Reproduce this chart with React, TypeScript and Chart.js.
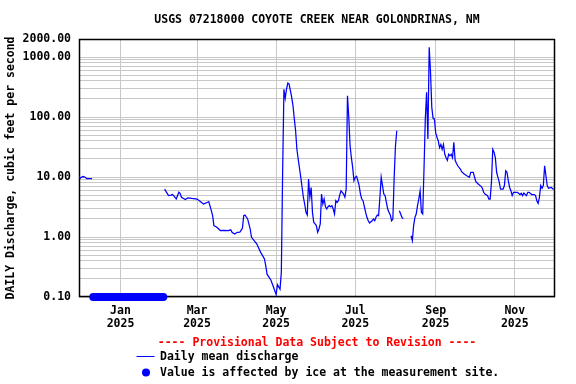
import React, { useEffect, useRef } from "react";
import { Chart, registerables } from "chart.js";

Chart.register(...registerables);

const TITLE = "USGS 07218000 COYOTE CREEK NEAR GOLONDRINAS, NM";
const Y_TITLE = "DAILY Discharge, cubic feet per second";
const PROVISIONAL = "---- Provisional Data Subject to Revision ----";
const LEGEND_LINE = "Daily mean discharge";
const LEGEND_ICE = "Value is affected by ice at the measurement site.";

// x values are days since 2025-01-01
const X_MIN = -32;
const X_MAX = 335;
const xTickDays = [0, 59, 120, 181, 243, 304];
const xTickLabels = [
  ["Jan", "2025"],
  ["Mar", "2025"],
  ["May", "2025"],
  ["Jul", "2025"],
  ["Sep", "2025"],
  ["Nov", "2025"],
];
const Y_MIN = 0.1;
const Y_MAX = 2000;
const yLabelValues = [0.1, 1, 10, 100, 1000, 2000];

// daily mean discharge (cfs); null = no value (gap)
const flowDay = [
  -32, -31, -30, -29, -28, -27, -26, -25, -24, -23, -22, -21,
  34, 37, 39, 40, 41, 43, 45, 46, 47, 50, 52, 55, 59, 61, 64, 66, 68, 69,
  71, 72, 74, 77, 79, 83, 85, 86, 88, 90, 92, 94, 95, 96, 98, 100, 101,
  105, 108, 111, 112, 113, 116, 118, 120, 121, 123, 124, 125, 126, 127,
  128, 129, 130, 132, 133, 134, 135, 136, 137, 139, 140, 141, 142, 143,
  144, 145, 146, 147, 148, 149, 150, 151, 152, 153, 154, 155, 156, 157,
  158, 159, 160, 161, 162, 163, 164, 165, 166, 167, 168, 169, 170, 171,
  172, 173, 174, 175, 176, 177, 178, 179, 180, 181, 182, 183, 184, 185,
  186, 187, 188, 189, 190, 191, 192, 194, 195, 196, 197, 198, 199, 200,
  201, 202, 203, 204, 205, 206, 207, 208, 209, 210, 211, 212, 213, 214,
  215, 216, 217, 218, 219,
  224, 225, 226, 227, 228, 229, 230, 231, 232, 233, 234, 235, 236, 237,
  238, 239, 240, 241, 242, 243, 244, 245, 246, 247, 248, 249, 250, 251,
  252, 253, 254, 255, 256, 257, 258, 259, 260, 262, 263, 265, 267, 269,
  270, 272, 273, 274, 276, 278, 279, 280, 281, 283, 284, 285, 286, 287,
  288, 289, 290, 291, 292, 293, 295, 296, 297, 298, 299, 300, 301, 302,
  303, 305, 306, 308, 309, 310, 311, 313, 314, 315, 317, 319, 320, 321,
  322, 323, 324, 325, 326, 327, 328, 329, 330, 332, 334,
];
const flowCfs: (number | null)[] = [
  10.3, 9.6, 9.9, 10.2, 10.1, 9.8, 9.4, 9.4, 9.4, 9.4, 9.4, null,
  6.3, 4.9, 5.0, 5.1, 4.9, 4.3, 5.6, 5.3, 4.6, 4.2, 4.5, 4.4, 4.3, 4.0, 3.55, 3.7, 3.9, 3.3,
  2.3, 1.55, 1.47, 1.28, 1.29, 1.28, 1.32, 1.2, 1.12, 1.2, 1.21, 1.4, 2.27, 2.33, 2.0, 1.36, 0.99,
  0.77, 0.56, 0.43, 0.33, 0.24, 0.19, 0.145, 0.11, 0.16, 0.135, 0.26, 12, 290, 205,
  293, 369, 355, 213, 154, 93, 59, 29, 20, 9.9, 6.7, 4.6, 3.55, 2.58,
  2.33, 9.3, 4.6, 6.7, 2.58, 1.76, 1.65, 1.55, 1.2, 1.36, 1.65, 5.2, 3.55, 4.3,
  3.2, 2.93, 3.2, 3.33, 3.2, 3.33, 2.93, 2.42, 4.03, 3.78, 4.03, 5.0, 5.9, 5.56,
  5.2, 4.6, 6.3, 227, 99, 33, 21, 14.5, 8.7, 9.9, 10.3, 8.7, 7.2, 5.2,
  4.3, 4.03, 3.2, 2.58, 2.13, 1.87, 1.71, 1.87, 2.0, 1.87, 2.13, 2.33, 2.27, 4.6,
  9.9, 7.2, 5.2, 4.9, 3.78, 2.93, 2.58, 2.33, 1.87, 2.0, 9.9, 33, 59, null,
  2.75, 2.42, 2.13, 2.0, null,
  1.05, 0.87, 1.55, 2.13, 2.42, 3.33, 4.3, 5.9, 2.58, 2.42, 13.6, 93, 258, 43,
  1450, 570, 145, 95, 93, 55, 46, 40, 31, 35, 29, 35, 24, 21,
  19, 24, 22.6, 24, 21, 38, 19, 17, 15.4, 13.6, 12.3, 11.2, 10.5, 9.9,
  12, 12, 9.9, 8.4, 7.6, 7.0, 6.5, 5.56, 5.2, 4.9, 4.3, 4.3, 8.2, 29,
  26, 21, 12, 9.9, 8.2, 6.3, 6.3, 7.2, 12.7, 12, 8.7, 6.7, 5.9, 4.9,
  5.56, 5.56, 5.56, 5.1, 5.35, 4.9, 5.4, 4.9, 5.56, 5.56, 5.1, 5.1, 4.9, 4.03,
  3.64, 4.6, 7.2, 6.5, 7.2, 15.4, 10.5, 7.2, 6.5, 6.7, 6.2,
];

// days flagged as ice-affected (marked along the bottom of the plot)
const iceDay = [
  -21, -20, -19, -18, -17, -16, -15, -14, -13, -12, -11, -10, -9, -8, -7,
  -6, -5, -4, -3, -2, -1, 0, 1, 2, 3, 4, 5, 6, 7, 8, 9, 10, 11, 12, 13,
  14, 15, 16, 17, 18, 19, 20, 21, 22, 23, 24, 25, 26, 27, 28, 29, 30, 31,
  32, 33,
];
const ICE_MARK = 0.1;

const FONT_FAMILY = "'DejaVu Sans Mono', 'Liberation Mono', monospace";
const BLUE = "#0000ff";

const overlayPlugin = {
  id: "usgsOverlay",
  beforeDatasetsDraw(chart: any) {
    const { ctx, chartArea: a } = chart;
    ctx.save();
    ctx.strokeStyle = "#000";
    ctx.lineWidth = 1.5;
    const l = Math.round(a.left) + 0.5;
    const t = Math.round(a.top) + 0.5;
    const r = Math.round(a.right) - 0.5;
    const b = Math.round(a.bottom) - 0.5;
    ctx.strokeRect(l, t, r - l, b - t);
    ctx.restore();
  },
  afterDraw(chart: any) {
    const { ctx, chartArea: a } = chart;
    ctx.save();
    ctx.font = `bold 11.5px ${FONT_FAMILY}`;
    ctx.textBaseline = "middle";
    ctx.fillStyle = "#000";
    ctx.textAlign = "center";
    ctx.fillText(TITLE, (a.left + a.right) / 2, 20.5);

    ctx.fillStyle = "#ff0000";
    ctx.fillText(PROVISIONAL, (a.left + a.right) / 2, 343);

    ctx.textAlign = "left";
    ctx.fillStyle = "#000";
    ctx.fillText(LEGEND_LINE, 160, 357);
    ctx.fillText(LEGEND_ICE, 160, 373);

    ctx.strokeStyle = BLUE;
    ctx.lineWidth = 1;
    ctx.beginPath();
    ctx.moveTo(136.5, 356.5);
    ctx.lineTo(154.5, 356.5);
    ctx.stroke();

    ctx.fillStyle = BLUE;
    ctx.beginPath();
    ctx.arc(146, 372.5, 4, 0, Math.PI * 2);
    ctx.fill();
    ctx.restore();
  },
};

function buildLogGridValues(): number[] {
  const vals: number[] = [];
  for (let dec = Y_MIN; dec < Y_MAX; dec *= 10) {
    for (let m = 1; m <= 9; m++) {
      const v = parseFloat((dec * m).toPrecision(6));
      if (v <= Y_MAX) vals.push(v);
    }
  }
  if (vals[vals.length - 1] !== Y_MAX) vals.push(Y_MAX);
  return vals;
}

export default function App() {
  const canvasRef = useRef<HTMLCanvasElement | null>(null);

  useEffect(() => {
    document.body.style.margin = "0";
    const canvas = canvasRef.current;
    if (!canvas) return;

    const linePoints = flowDay.map((d, i) => ({ x: d, y: flowCfs[i] }));
    const icePoints = iceDay.map((d) => ({ x: d, y: ICE_MARK }));
    const gridVals = buildLogGridValues();

    const chart = new Chart(canvas, {
      type: "line",
      data: {
        datasets: [
          {
            label: LEGEND_LINE,
            data: linePoints as any,
            borderColor: BLUE,
            borderWidth: 1.25,
            pointRadius: 0,
            tension: 0,
            spanGaps: false,
            fill: false,
          },
          {
            label: LEGEND_ICE,
            data: icePoints as any,
            showLine: false,
            pointRadius: 4,
            pointStyle: "circle",
            pointBackgroundColor: BLUE,
            pointBorderWidth: 0,
            borderColor: BLUE,
            clip: false as any,
          },
        ],
      },
      options: {
        animation: false,
        responsive: true,
        maintainAspectRatio: false,
        layout: { padding: { left: 0, top: 39, right: 21, bottom: 0 } },
        plugins: {
          legend: { display: false },
          title: { display: false },
          tooltip: { enabled: false },
        },
        font: { family: FONT_FAMILY },
        scales: {
          x: {
            type: "linear",
            min: X_MIN,
            max: X_MAX,
            afterBuildTicks: (scale: any) => {
              scale.ticks = xTickDays.map((v) => ({ value: v }));
            },
            afterFit: (scale: any) => {
              scale.height = 87;
            },
            ticks: {
              autoSkip: false,
              maxRotation: 0,
              padding: 8,
              color: "#000",
              font: { family: FONT_FAMILY, size: 11.5, weight: "bold", lineHeight: 1.1 },
              callback: (_v: any, i: number) => xTickLabels[i],
            },
            grid: {
              color: "rgb(200,200,200)",
              lineWidth: 1,
              drawTicks: false,
            },
            border: { display: false },
          },
          y: {
            type: "logarithmic",
            min: Y_MIN,
            max: Y_MAX,
            afterBuildTicks: (scale: any) => {
              scale.ticks = gridVals.map((v) => ({ value: v }));
            },
            afterFit: (scale: any) => {
              scale.width = 79;
            },
            ticks: {
              autoSkip: false,
              padding: 8,
              color: "#000",
              font: { family: FONT_FAMILY, size: 11.5, weight: "bold" },
              callback: (v: any) => {
                const n = Number(v);
                const hit = yLabelValues.find((lv) => Math.abs(lv - n) / lv < 1e-6);
                return hit !== undefined ? hit.toFixed(2) : "";
              },
            },
            grid: {
              color: "rgb(200,200,200)",
              lineWidth: 1,
              drawTicks: false,
            },
            border: { display: false },
            title: {
              display: true,
              text: Y_TITLE,
              color: "#000",
              font: { family: FONT_FAMILY, size: 11.5, weight: "bold" },
              padding: { top: 4, bottom: 0 },
            },
          },
        },
      },
      plugins: [overlayPlugin],
    });

    return () => chart.destroy();
  }, []);

  return (
    <div style={{ width: 576, height: 384, position: "relative", background: "#fff" }}>
      <canvas ref={canvasRef} />
    </div>
  );
}
